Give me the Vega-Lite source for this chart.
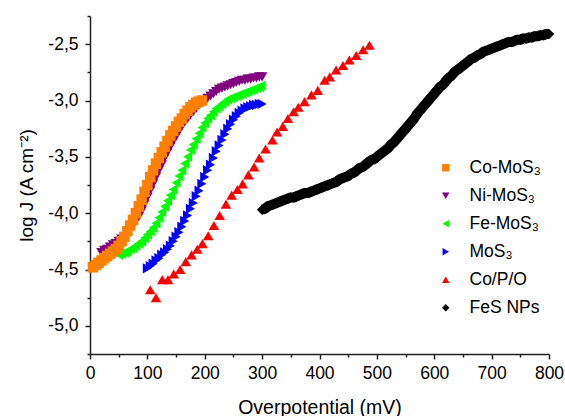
{
"$schema":"https://vega.github.io/schema/vega-lite/v6.json",
"width":459,"height":338,
"autosize":{"type":"none"},
"padding":{"left":90,"top":16,"right":16,"bottom":62},
"background":"white",
"config":{"view":{"stroke":null},"font":"Liberation Sans"},
"data":{"values":[
{"s":"FeS NPs","v":300,"j":-3.97},{"s":"FeS NPs","v":305,"j":-3.96},{"s":"FeS NPs","v":310,"j":-3.94},{"s":"FeS NPs","v":315,"j":-3.93},{"s":"FeS NPs","v":320,"j":-3.92},{"s":"FeS NPs","v":325,"j":-3.91},{"s":"FeS NPs","v":330,"j":-3.90},{"s":"FeS NPs","v":335,"j":-3.89},{"s":"FeS NPs","v":340,"j":-3.88},{"s":"FeS NPs","v":345,"j":-3.87},{"s":"FeS NPs","v":350,"j":-3.86},{"s":"FeS NPs","v":355,"j":-3.86},{"s":"FeS NPs","v":360,"j":-3.85},{"s":"FeS NPs","v":365,"j":-3.84},{"s":"FeS NPs","v":370,"j":-3.83},{"s":"FeS NPs","v":375,"j":-3.82},{"s":"FeS NPs","v":380,"j":-3.82},{"s":"FeS NPs","v":385,"j":-3.81},{"s":"FeS NPs","v":390,"j":-3.80},{"s":"FeS NPs","v":395,"j":-3.79},{"s":"FeS NPs","v":400,"j":-3.78},{"s":"FeS NPs","v":405,"j":-3.77},{"s":"FeS NPs","v":410,"j":-3.76},{"s":"FeS NPs","v":415,"j":-3.75},{"s":"FeS NPs","v":420,"j":-3.74},{"s":"FeS NPs","v":425,"j":-3.73},{"s":"FeS NPs","v":430,"j":-3.72},{"s":"FeS NPs","v":435,"j":-3.70},{"s":"FeS NPs","v":440,"j":-3.69},{"s":"FeS NPs","v":445,"j":-3.68},{"s":"FeS NPs","v":450,"j":-3.67},{"s":"FeS NPs","v":455,"j":-3.65},{"s":"FeS NPs","v":460,"j":-3.64},{"s":"FeS NPs","v":465,"j":-3.62},{"s":"FeS NPs","v":470,"j":-3.60},{"s":"FeS NPs","v":475,"j":-3.59},{"s":"FeS NPs","v":480,"j":-3.57},{"s":"FeS NPs","v":485,"j":-3.55},{"s":"FeS NPs","v":490,"j":-3.53},{"s":"FeS NPs","v":495,"j":-3.52},{"s":"FeS NPs","v":500,"j":-3.50},{"s":"FeS NPs","v":505,"j":-3.48},{"s":"FeS NPs","v":510,"j":-3.46},{"s":"FeS NPs","v":515,"j":-3.44},{"s":"FeS NPs","v":520,"j":-3.42},{"s":"FeS NPs","v":525,"j":-3.39},{"s":"FeS NPs","v":530,"j":-3.37},{"s":"FeS NPs","v":535,"j":-3.34},{"s":"FeS NPs","v":540,"j":-3.31},{"s":"FeS NPs","v":545,"j":-3.28},{"s":"FeS NPs","v":550,"j":-3.25},{"s":"FeS NPs","v":555,"j":-3.22},{"s":"FeS NPs","v":560,"j":-3.19},{"s":"FeS NPs","v":565,"j":-3.16},{"s":"FeS NPs","v":570,"j":-3.12},{"s":"FeS NPs","v":575,"j":-3.09},{"s":"FeS NPs","v":580,"j":-3.06},{"s":"FeS NPs","v":585,"j":-3.03},{"s":"FeS NPs","v":590,"j":-3.00},{"s":"FeS NPs","v":595,"j":-2.97},{"s":"FeS NPs","v":600,"j":-2.94},{"s":"FeS NPs","v":605,"j":-2.91},{"s":"FeS NPs","v":610,"j":-2.88},{"s":"FeS NPs","v":615,"j":-2.86},{"s":"FeS NPs","v":620,"j":-2.83},{"s":"FeS NPs","v":625,"j":-2.80},{"s":"FeS NPs","v":630,"j":-2.78},{"s":"FeS NPs","v":635,"j":-2.75},{"s":"FeS NPs","v":640,"j":-2.73},{"s":"FeS NPs","v":645,"j":-2.71},{"s":"FeS NPs","v":650,"j":-2.69},{"s":"FeS NPs","v":655,"j":-2.67},{"s":"FeS NPs","v":660,"j":-2.65},{"s":"FeS NPs","v":665,"j":-2.63},{"s":"FeS NPs","v":670,"j":-2.62},{"s":"FeS NPs","v":675,"j":-2.60},{"s":"FeS NPs","v":680,"j":-2.59},{"s":"FeS NPs","v":685,"j":-2.57},{"s":"FeS NPs","v":690,"j":-2.56},{"s":"FeS NPs","v":695,"j":-2.55},{"s":"FeS NPs","v":700,"j":-2.54},{"s":"FeS NPs","v":705,"j":-2.53},{"s":"FeS NPs","v":710,"j":-2.52},{"s":"FeS NPs","v":715,"j":-2.51},{"s":"FeS NPs","v":720,"j":-2.50},{"s":"FeS NPs","v":725,"j":-2.49},{"s":"FeS NPs","v":730,"j":-2.48},{"s":"FeS NPs","v":735,"j":-2.48},{"s":"FeS NPs","v":740,"j":-2.47},{"s":"FeS NPs","v":745,"j":-2.46},{"s":"FeS NPs","v":750,"j":-2.46},{"s":"FeS NPs","v":755,"j":-2.45},{"s":"FeS NPs","v":760,"j":-2.45},{"s":"FeS NPs","v":765,"j":-2.44},{"s":"FeS NPs","v":770,"j":-2.44},{"s":"FeS NPs","v":775,"j":-2.43},{"s":"FeS NPs","v":780,"j":-2.43},{"s":"FeS NPs","v":785,"j":-2.42},{"s":"FeS NPs","v":790,"j":-2.42},{"s":"FeS NPs","v":795,"j":-2.41},{"s":"FeS NPs","v":800,"j":-2.41},
{"s":"Co/P/O","v":105,"j":-4.68},{"s":"Co/P/O","v":115,"j":-4.75},{"s":"Co/P/O","v":126,"j":-4.59},{"s":"Co/P/O","v":136,"j":-4.59},{"s":"Co/P/O","v":146,"j":-4.54},{"s":"Co/P/O","v":157,"j":-4.50},{"s":"Co/P/O","v":167,"j":-4.43},{"s":"Co/P/O","v":177,"j":-4.37},{"s":"Co/P/O","v":187,"j":-4.32},{"s":"Co/P/O","v":196,"j":-4.27},{"s":"Co/P/O","v":206,"j":-4.20},{"s":"Co/P/O","v":216,"j":-4.11},{"s":"Co/P/O","v":226,"j":-4.02},{"s":"Co/P/O","v":237,"j":-3.92},{"s":"Co/P/O","v":247,"j":-3.84},{"s":"Co/P/O","v":257,"j":-3.79},{"s":"Co/P/O","v":266,"j":-3.74},{"s":"Co/P/O","v":276,"j":-3.66},{"s":"Co/P/O","v":286,"j":-3.59},{"s":"Co/P/O","v":295,"j":-3.51},{"s":"Co/P/O","v":306,"j":-3.43},{"s":"Co/P/O","v":318,"j":-3.35},{"s":"Co/P/O","v":326,"j":-3.28},{"s":"Co/P/O","v":336,"j":-3.23},{"s":"Co/P/O","v":345,"j":-3.16},{"s":"Co/P/O","v":355,"j":-3.10},{"s":"Co/P/O","v":363,"j":-3.06},{"s":"Co/P/O","v":374,"j":-3.01},{"s":"Co/P/O","v":386,"j":-2.95},{"s":"Co/P/O","v":397,"j":-2.91},{"s":"Co/P/O","v":409,"j":-2.82},{"s":"Co/P/O","v":418,"j":-2.79},{"s":"Co/P/O","v":429,"j":-2.73},{"s":"Co/P/O","v":441,"j":-2.69},{"s":"Co/P/O","v":452,"j":-2.64},{"s":"Co/P/O","v":464,"j":-2.60},{"s":"Co/P/O","v":476,"j":-2.55},{"s":"Co/P/O","v":487,"j":-2.51},
{"s":"MoS₃","v":100,"j":-4.49},{"s":"MoS₃","v":105,"j":-4.47},{"s":"MoS₃","v":110,"j":-4.45},{"s":"MoS₃","v":115,"j":-4.42},{"s":"MoS₃","v":120,"j":-4.40},{"s":"MoS₃","v":125,"j":-4.37},{"s":"MoS₃","v":130,"j":-4.35},{"s":"MoS₃","v":135,"j":-4.32},{"s":"MoS₃","v":140,"j":-4.29},{"s":"MoS₃","v":145,"j":-4.25},{"s":"MoS₃","v":150,"j":-4.21},{"s":"MoS₃","v":155,"j":-4.17},{"s":"MoS₃","v":160,"j":-4.12},{"s":"MoS₃","v":165,"j":-4.07},{"s":"MoS₃","v":170,"j":-4.02},{"s":"MoS₃","v":175,"j":-3.96},{"s":"MoS₃","v":180,"j":-3.91},{"s":"MoS₃","v":185,"j":-3.85},{"s":"MoS₃","v":190,"j":-3.80},{"s":"MoS₃","v":195,"j":-3.74},{"s":"MoS₃","v":200,"j":-3.68},{"s":"MoS₃","v":205,"j":-3.62},{"s":"MoS₃","v":210,"j":-3.57},{"s":"MoS₃","v":215,"j":-3.51},{"s":"MoS₃","v":220,"j":-3.45},{"s":"MoS₃","v":225,"j":-3.40},{"s":"MoS₃","v":230,"j":-3.35},{"s":"MoS₃","v":235,"j":-3.30},{"s":"MoS₃","v":240,"j":-3.25},{"s":"MoS₃","v":245,"j":-3.21},{"s":"MoS₃","v":250,"j":-3.17},{"s":"MoS₃","v":255,"j":-3.14},{"s":"MoS₃","v":260,"j":-3.11},{"s":"MoS₃","v":265,"j":-3.09},{"s":"MoS₃","v":270,"j":-3.07},{"s":"MoS₃","v":275,"j":-3.06},{"s":"MoS₃","v":280,"j":-3.05},{"s":"MoS₃","v":285,"j":-3.04},{"s":"MoS₃","v":290,"j":-3.04},{"s":"MoS₃","v":295,"j":-3.03},{"s":"MoS₃","v":300,"j":-3.03},
{"s":"Fe-MoS₃","v":50,"j":-4.37},{"s":"Fe-MoS₃","v":55,"j":-4.36},{"s":"Fe-MoS₃","v":60,"j":-4.35},{"s":"Fe-MoS₃","v":65,"j":-4.34},{"s":"Fe-MoS₃","v":70,"j":-4.32},{"s":"Fe-MoS₃","v":75,"j":-4.31},{"s":"Fe-MoS₃","v":80,"j":-4.29},{"s":"Fe-MoS₃","v":85,"j":-4.27},{"s":"Fe-MoS₃","v":90,"j":-4.25},{"s":"Fe-MoS₃","v":95,"j":-4.22},{"s":"Fe-MoS₃","v":100,"j":-4.19},{"s":"Fe-MoS₃","v":105,"j":-4.16},{"s":"Fe-MoS₃","v":110,"j":-4.13},{"s":"Fe-MoS₃","v":115,"j":-4.09},{"s":"Fe-MoS₃","v":120,"j":-4.04},{"s":"Fe-MoS₃","v":125,"j":-3.99},{"s":"Fe-MoS₃","v":130,"j":-3.94},{"s":"Fe-MoS₃","v":135,"j":-3.89},{"s":"Fe-MoS₃","v":140,"j":-3.84},{"s":"Fe-MoS₃","v":145,"j":-3.79},{"s":"Fe-MoS₃","v":150,"j":-3.73},{"s":"Fe-MoS₃","v":155,"j":-3.67},{"s":"Fe-MoS₃","v":160,"j":-3.62},{"s":"Fe-MoS₃","v":165,"j":-3.56},{"s":"Fe-MoS₃","v":170,"j":-3.50},{"s":"Fe-MoS₃","v":175,"j":-3.44},{"s":"Fe-MoS₃","v":180,"j":-3.39},{"s":"Fe-MoS₃","v":185,"j":-3.34},{"s":"Fe-MoS₃","v":190,"j":-3.29},{"s":"Fe-MoS₃","v":195,"j":-3.24},{"s":"Fe-MoS₃","v":200,"j":-3.20},{"s":"Fe-MoS₃","v":205,"j":-3.16},{"s":"Fe-MoS₃","v":210,"j":-3.13},{"s":"Fe-MoS₃","v":215,"j":-3.10},{"s":"Fe-MoS₃","v":220,"j":-3.07},{"s":"Fe-MoS₃","v":225,"j":-3.05},{"s":"Fe-MoS₃","v":230,"j":-3.03},{"s":"Fe-MoS₃","v":235,"j":-3.01},{"s":"Fe-MoS₃","v":240,"j":-2.99},{"s":"Fe-MoS₃","v":245,"j":-2.98},{"s":"Fe-MoS₃","v":250,"j":-2.97},{"s":"Fe-MoS₃","v":255,"j":-2.96},{"s":"Fe-MoS₃","v":260,"j":-2.95},{"s":"Fe-MoS₃","v":265,"j":-2.94},{"s":"Fe-MoS₃","v":270,"j":-2.93},{"s":"Fe-MoS₃","v":275,"j":-2.92},{"s":"Fe-MoS₃","v":280,"j":-2.91},{"s":"Fe-MoS₃","v":285,"j":-2.90},{"s":"Fe-MoS₃","v":290,"j":-2.89},{"s":"Fe-MoS₃","v":295,"j":-2.88},{"s":"Fe-MoS₃","v":298,"j":-2.87},
{"s":"Ni-MoS₃","v":20,"j":-4.35},{"s":"Ni-MoS₃","v":25,"j":-4.33},{"s":"Ni-MoS₃","v":30,"j":-4.32},{"s":"Ni-MoS₃","v":35,"j":-4.30},{"s":"Ni-MoS₃","v":40,"j":-4.28},{"s":"Ni-MoS₃","v":45,"j":-4.27},{"s":"Ni-MoS₃","v":50,"j":-4.25},{"s":"Ni-MoS₃","v":55,"j":-4.23},{"s":"Ni-MoS₃","v":60,"j":-4.21},{"s":"Ni-MoS₃","v":65,"j":-4.18},{"s":"Ni-MoS₃","v":70,"j":-4.15},{"s":"Ni-MoS₃","v":75,"j":-4.11},{"s":"Ni-MoS₃","v":80,"j":-4.07},{"s":"Ni-MoS₃","v":85,"j":-4.03},{"s":"Ni-MoS₃","v":90,"j":-3.98},{"s":"Ni-MoS₃","v":95,"j":-3.92},{"s":"Ni-MoS₃","v":100,"j":-3.86},{"s":"Ni-MoS₃","v":105,"j":-3.80},{"s":"Ni-MoS₃","v":110,"j":-3.74},{"s":"Ni-MoS₃","v":115,"j":-3.68},{"s":"Ni-MoS₃","v":120,"j":-3.62},{"s":"Ni-MoS₃","v":125,"j":-3.57},{"s":"Ni-MoS₃","v":130,"j":-3.51},{"s":"Ni-MoS₃","v":135,"j":-3.46},{"s":"Ni-MoS₃","v":140,"j":-3.41},{"s":"Ni-MoS₃","v":145,"j":-3.36},{"s":"Ni-MoS₃","v":150,"j":-3.32},{"s":"Ni-MoS₃","v":155,"j":-3.27},{"s":"Ni-MoS₃","v":160,"j":-3.23},{"s":"Ni-MoS₃","v":165,"j":-3.19},{"s":"Ni-MoS₃","v":170,"j":-3.16},{"s":"Ni-MoS₃","v":175,"j":-3.13},{"s":"Ni-MoS₃","v":180,"j":-3.10},{"s":"Ni-MoS₃","v":185,"j":-3.07},{"s":"Ni-MoS₃","v":190,"j":-3.04},{"s":"Ni-MoS₃","v":195,"j":-3.02},{"s":"Ni-MoS₃","v":200,"j":-3.00},{"s":"Ni-MoS₃","v":205,"j":-2.98},{"s":"Ni-MoS₃","v":210,"j":-2.96},{"s":"Ni-MoS₃","v":215,"j":-2.94},{"s":"Ni-MoS₃","v":220,"j":-2.92},{"s":"Ni-MoS₃","v":225,"j":-2.90},{"s":"Ni-MoS₃","v":230,"j":-2.89},{"s":"Ni-MoS₃","v":235,"j":-2.88},{"s":"Ni-MoS₃","v":240,"j":-2.87},{"s":"Ni-MoS₃","v":245,"j":-2.86},{"s":"Ni-MoS₃","v":250,"j":-2.85},{"s":"Ni-MoS₃","v":255,"j":-2.84},{"s":"Ni-MoS₃","v":260,"j":-2.83},{"s":"Ni-MoS₃","v":265,"j":-2.82},{"s":"Ni-MoS₃","v":270,"j":-2.82},{"s":"Ni-MoS₃","v":275,"j":-2.81},{"s":"Ni-MoS₃","v":280,"j":-2.81},{"s":"Ni-MoS₃","v":285,"j":-2.80},{"s":"Ni-MoS₃","v":290,"j":-2.80},{"s":"Ni-MoS₃","v":295,"j":-2.79},{"s":"Ni-MoS₃","v":300,"j":-2.79},
{"s":"Co-MoS₃","v":5,"j":-4.48},{"s":"Co-MoS₃","v":10,"j":-4.46},{"s":"Co-MoS₃","v":15,"j":-4.44},{"s":"Co-MoS₃","v":20,"j":-4.42},{"s":"Co-MoS₃","v":25,"j":-4.40},{"s":"Co-MoS₃","v":30,"j":-4.38},{"s":"Co-MoS₃","v":35,"j":-4.36},{"s":"Co-MoS₃","v":40,"j":-4.34},{"s":"Co-MoS₃","v":45,"j":-4.32},{"s":"Co-MoS₃","v":50,"j":-4.29},{"s":"Co-MoS₃","v":55,"j":-4.25},{"s":"Co-MoS₃","v":60,"j":-4.21},{"s":"Co-MoS₃","v":65,"j":-4.16},{"s":"Co-MoS₃","v":70,"j":-4.11},{"s":"Co-MoS₃","v":75,"j":-4.06},{"s":"Co-MoS₃","v":80,"j":-4.00},{"s":"Co-MoS₃","v":85,"j":-3.94},{"s":"Co-MoS₃","v":90,"j":-3.88},{"s":"Co-MoS₃","v":95,"j":-3.81},{"s":"Co-MoS₃","v":100,"j":-3.75},{"s":"Co-MoS₃","v":105,"j":-3.68},{"s":"Co-MoS₃","v":110,"j":-3.62},{"s":"Co-MoS₃","v":115,"j":-3.56},{"s":"Co-MoS₃","v":120,"j":-3.51},{"s":"Co-MoS₃","v":125,"j":-3.46},{"s":"Co-MoS₃","v":130,"j":-3.41},{"s":"Co-MoS₃","v":135,"j":-3.36},{"s":"Co-MoS₃","v":140,"j":-3.31},{"s":"Co-MoS₃","v":145,"j":-3.27},{"s":"Co-MoS₃","v":150,"j":-3.23},{"s":"Co-MoS₃","v":155,"j":-3.19},{"s":"Co-MoS₃","v":160,"j":-3.16},{"s":"Co-MoS₃","v":165,"j":-3.12},{"s":"Co-MoS₃","v":170,"j":-3.09},{"s":"Co-MoS₃","v":175,"j":-3.06},{"s":"Co-MoS₃","v":180,"j":-3.04},{"s":"Co-MoS₃","v":185,"j":-3.02},{"s":"Co-MoS₃","v":190,"j":-3.01},{"s":"Co-MoS₃","v":195,"j":-3.00}
]},
"encoding":{
"x":{"field":"v","type":"quantitative","scale":{"domain":[0,800],"nice":false,"zero":false},
"axis":{"title":"Overpotential (mV)","values":[0,50,100,150,200,250,300,350,400,450,500,550,600,650,700,750,800],
"labelExpr":"datum.value % 100 === 0 ? datum.label : ''",
"tickSize":{"condition":{"test":"datum.value % 100 === 0","value":5},"value":3},
"grid":false,"domainColor":"#222","domainWidth":1.5,"tickColor":"#222","tickWidth":1.5,
"labelFontSize":17.5,"labelColor":"#000","labelPadding":5,"labelFlush":false,"labelOverlap":false,
"titleFontSize":19.5,"titleFontWeight":"normal","titleColor":"#000","titleY":59,"titleBaseline":"alphabetic"}},
"y":{"field":"j","type":"quantitative","scale":{"domain":[-5.25,-2.25],"nice":false,"zero":false},
"axis":{"title":"log J (A cm⁻²)","values":[-5.25,-5,-4.75,-4.5,-4.25,-4,-3.75,-3.5,-3.25,-3,-2.75,-2.5,-2.25],
"labelExpr":"abs(datum.value*2 - round(datum.value*2)) < 0.01 ? replace(replace(format(datum.value, '.1f'), '.', ','), '−', '-') : ''",
"tickSize":{"condition":{"test":"abs(datum.value*2 - round(datum.value*2)) < 0.01","value":5},"value":3},
"grid":false,"domainColor":"#222","domainWidth":1.5,"tickColor":"#222","tickWidth":1.5,
"labelFontSize":17.5,"labelColor":"#000","labelPadding":7,"labelFlush":false,"labelOverlap":false,
"titleFontSize":19,"titleFontWeight":"normal","titleColor":"#000","titleX":-58,"titleY":169,"titleBaseline":"alphabetic","titleAlign":"center","titleAngle":-90}}
},
"layer":[
{"transform":[{"filter":"datum.s === 'FeS NPs'"}],
 "mark":{"type":"line","color":"#000000","strokeWidth":10,"strokeCap":"butt","interpolate":"monotone"},
 "encoding":{}},
{"mark":{"type":"point","filled":true,"opacity":1,"strokeWidth":0,"size":110},
 "encoding":{
 "color":{"field":"s","type":"nominal","scale":{"domain":["Co-MoS₃","Ni-MoS₃","Fe-MoS₃","MoS₃","Co/P/O","FeS NPs"],"range":["#FF8000","#800080","#00FF00","#0000FF","#FF0000","#000000"]},
 "legend":{"title":null,"orient":"none","legendX":347,"legendY":143,"padding":0,"labelFontSize":17.5,"labelColor":"#000","labelOffset":15,"rowPadding":9,"symbolSize":55,"symbolStrokeWidth":0}},
 "shape":{"field":"s","type":"nominal","scale":{"domain":["Co-MoS₃","Ni-MoS₃","Fe-MoS₃","MoS₃","Co/P/O","FeS NPs"],"range":["square","triangle-down","triangle-left","triangle-right","triangle-up","diamond"]}},
 "order":{"value":0}
 }}
]
}
